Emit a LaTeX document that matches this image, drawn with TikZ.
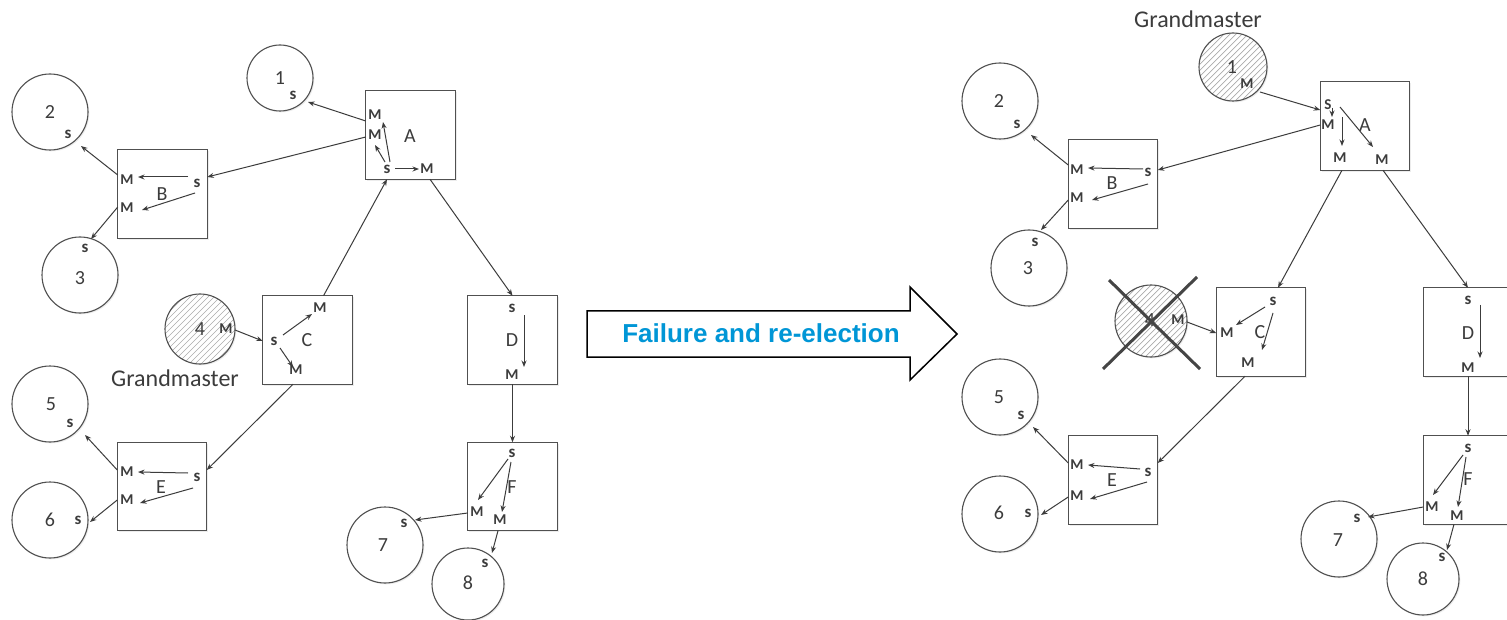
\documentclass[tikz,border=0pt]{standalone}
\usepackage{fontspec}
\setmainfont{Carlito}
\newfontfamily\bannerfont{Liberation Sans}
\usetikzlibrary{arrows.meta,calc,shadows}

\definecolor{ink}{HTML}{3C3C3C}
\definecolor{edge}{HTML}{505050}
\definecolor{hatchc}{HTML}{ABABAB}
\definecolor{crossc}{HTML}{454545}
\definecolor{banner}{RGB}{0,150,214}

\tikzset{
  station/.style={circle, draw=edge, line width=1.1pt, fill=white,
    minimum size=76pt, inner sep=0pt, outer sep=0pt,
    drop shadow={shadow xshift=1.3pt, shadow yshift=-1.3pt, fill=black!14}},
  hatched/.style={path picture={
    \foreach \k in {-96,-90,...,96}
      \draw[hatchc, line width=0.7pt]
        ($(path picture bounding box.center)+(\k-50,50)$) -- ++(100,-100);}},
  switchbox/.style={rectangle, draw=edge, line width=1.4pt, fill=white,
    minimum width=89.5pt, minimum height=88.5pt, inner sep=0pt, outer sep=0pt,
    drop shadow={shadow xshift=1.5pt, shadow yshift=-1.5pt, fill=black!14}},
  num/.style={text=ink, font=\fontsize{20}{20}\selectfont, inner sep=0.5pt},
  portm/.style={text=ink, font=\bfseries\fontsize{15}{15}\selectfont, inner sep=0.5pt},
  ports/.style={text=ink, font=\bfseries\fontsize{17}{17}\selectfont, inner sep=0.5pt},
  gmtext/.style={text=ink, font=\fontsize{24}{24}\selectfont, inner sep=0pt},
  link/.style={draw=ink, line width=1pt, -{Stealth[length=6.5pt,width=5pt]}},
  xmark/.style={draw=crossc, line width=3pt},
}

\begin{document}
\begin{tikzpicture}[x=1pt, y=-1pt]
\fill[white] (0,0) rectangle (1507,620);
\useasboundingbox (0,0) rectangle (1507,620);

% ---------------- network before the failure ----------------
% end stations
\node[station, minimum size=66pt] (c1L) at (280,78) {};
\node[station] (c2L) at (50,112) {};
\node[station] (c3L) at (80,275) {};
\node[station, hatched, minimum size=70pt] (c4L) at (200,329) {};
\node[station] (c5L) at (50,404) {};
\node[station] (c6L) at (50,520) {};
\node[station] (c7L) at (385,545) {};
\node[station, minimum size=72pt] (c8L) at (468,584) {};

% boundary clocks
\node[switchbox] (bAL) at (410.5,135) {};
\node[switchbox] (bBL) at (162.5,194) {};
\node[switchbox] (bCL) at (307.5,340) {};
\node[switchbox] (bDL) at (512.5,340) {};
\node[switchbox] (bEL) at (162,486.5) {};
\node[switchbox] (bFL) at (512.5,486.5) {};

% station labels
\node[num] (n1L) at (280,78) {1};   \node[ports] (s1L) at (293,95) {s};
\node[num] (n2L) at (50,112) {2};   \node[ports] (s2L) at (68,134) {s};
\node[num] (n3L) at (80,278) {3};   \node[ports] (s3L) at (85,248) {s};
\node[num] (n4L) at (200,329) {4};  \node[portm] (m4L) at (226,329) {M};
\node[gmtext] (gmL) at (175,378) {Grandmaster};
\node[num] (n5L) at (51,404) {5};   \node[ports] (s5L) at (70,423) {s};
\node[num] (n6L) at (50,520) {6};   \node[ports] (s6L) at (78,520) {s};
\node[num] (n7L) at (383,545) {7};  \node[ports] (s7L) at (404,523) {s};
\node[num] (n8L) at (468,583) {8};  \node[ports] (s8L) at (485,563) {s};

% switch labels and ports
\node[num] (lAL) at (410,136) {A};
\node[portm] (mA1L) at (375,115) {M};
\node[portm] (mA2L) at (375,135) {M};
\node[ports] (sAL) at (387,169) {s};
\node[portm] (mA3L) at (427,169) {M};

\node[num] (lBL) at (162,194) {B};
\node[portm] (mB1L) at (127,180) {M};
\node[portm] (mB2L) at (127,208) {M};
\node[ports] (sBL) at (197,183) {s};

\node[num] (lCL) at (307,340) {C};
\node[ports] (sCL) at (274,341) {s};
\node[portm] (mC1L) at (320,308) {M};
\node[portm] (mC2L) at (296,370) {M};

\node[num] (lDL) at (512,340) {D};
\node[ports] (sDL) at (512,308) {s};
\node[portm] (mDL) at (512,375) {M};

\node[num] (lEL) at (161,487) {E};
\node[portm] (mE1L) at (127,472) {M};
\node[portm] (mE2L) at (127,500) {M};
\node[ports] (sEL) at (197,477) {s};

\node[num] (lFL) at (512,487) {F};
\node[ports] (sFL) at (512,453) {s};
\node[portm] (mF1L) at (477,512) {M};
\node[portm] (mF2L) at (500,520) {M};

% links between clocks
\draw[link] ($(bAL.west)+(0,-14)$) -- ($(c1L)+(28,24)$);
\draw[link] ($(bAL.west)+(0,2)$) -- ($(bBL.east)+(0,-17)$);
\draw[link] ($(bBL.west)+(0,-19)$) -- ($(c2L)+(31,34)$);
\draw[link] ($(bBL.west)+(0,13)$) -- ($(c3L)+(11,-36)$);
\draw[link] ($(bCL.north)+(16,0)$) -- (bAL.south -| sAL);
\draw[link] ($(bAL.south)+(19.5,0)$) -- (bDL.north);
\draw[link] ($(c4L)+(35,1)$) -- ($(bCL.west)+(0,1)$);
\draw[link] ($(bCL.south)+(-14.5,0)$) -- ($(bEL.east)+(0,-16.5)$);
\draw[link] ($(bEL.west)+(0,-16.5)$) -- ($(c5L)+(35,31)$);
\draw[link] ($(bEL.west)+(0,13.5)$) -- ($(c6L)+(40,2)$);
\draw[link] (bDL.south) -- (bFL.north);
\draw[link] ($(bFL.west)+(0,26.5)$) -- ($(c7L)+(30,-25)$);
\draw[link] ($(bFL.south)+(-14.5,0)$) -- ($(c8L)+(24,-31)$);

% paths inside the switches
\draw[link] ($(sAL)+(3,-7)$) -- ($(mA1L)+(8,7)$);
\draw[link] ($(sAL)+(-2,-7)$) -- ($(mA2L)+(0,10)$);
\draw[link] ($(sAL)+(8,0)$) -- ($(mA3L)+(-8,0)$);
\draw[link] ($(sBL)+(-9,-6)$) -- ($(mB1L)+(11,-3)$);
\draw[link] ($(sBL)+(-2,10)$) -- ($(mB2L)+(15,2)$);
\draw[link] ($(sCL)+(9,-6)$) -- ($(mC1L)+(-8,6)$);
\draw[link] ($(sCL)+(6,7)$) -- ($(mC2L)+(-3,-3)$);
\draw[link] ($(sDL)+(12,7)$) -- ($(mDL)+(12,-8)$);
\draw[link] ($(sEL)+(-9,-4)$) -- ($(mE1L)+(11,0)$);
\draw[link] ($(sEL)+(-4,11)$) -- ($(mE2L)+(13,3)$);
\draw[link] ($(sFL)+(-4,6)$) -- ($(mF1L)+(1,-12)$);
\draw[link] ($(sFL)+(-1,9)$) -- ($(mF2L)+(2,-8)$);

% ---------------- transition ----------------
\draw[black, line width=1.5pt, line join=miter, fill=white]
  (587,311) -- (910,311) -- (910,287) -- (957,334) -- (910,380) -- (910,357) -- (587,357) -- cycle;
\node[text=banner, font=\bannerfont\bfseries\fontsize{26}{26}\selectfont, inner sep=0pt]
  (flow) at (761,333) {Failure and re-election};

% ---------------- network after re-election ----------------
\node[station, hatched, minimum size=68pt] (c1R) at (1233,67) {};
\node[station] (c2R) at (1000,101) {};
\node[station] (c3R) at (1029,268) {};
\node[station, hatched, minimum size=72pt] (c4R) at (1151,321) {};
\node[station] (c5R) at (1000,397) {};
\node[station] (c6R) at (1000,514) {};
\node[station] (c7R) at (1339,539) {};
\node[station, minimum size=72pt] (c8R) at (1423,579) {};

\node[switchbox] (bAR) at (1365,126) {};
\node[switchbox] (bBR) at (1113,184) {};
\node[switchbox] (bCR) at (1261,332) {};
\node[switchbox] (bDR) at (1468,332) {};
\node[switchbox] (bER) at (1113,480) {};
\node[switchbox] (bFR) at (1468,480) {};

\node[gmtext] (gmR) at (1198,19) {Grandmaster};
\node[num] (n1R) at (1232,67) {1};   \node[portm] (m1R) at (1247,84) {M};
\node[num] (n2R) at (999,101) {2};   \node[ports] (s2R) at (1017,124) {s};
\node[num] (n3R) at (1028,268) {3};  \node[ports] (s3R) at (1035,242) {s};
\node[num] (n4R) at (1150,320) {4};  \node[portm] (m4R) at (1178,320) {M};
\node[num] (n5R) at (999,397) {5};   \node[ports] (s5R) at (1021,415) {s};
\node[num] (n6R) at (999,513) {6};   \node[ports] (s6R) at (1028,513) {s};
\node[num] (n7R) at (1338,540) {7};  \node[ports] (s7R) at (1357,518) {s};
\node[num] (n8R) at (1423,579) {8};  \node[ports] (s8R) at (1442,557) {s};

\node[num] (lAR) at (1365,125) {A};
\node[portm] (SAR) at (1328,105) {S};
\node[portm] (mA1R) at (1328,125) {M};
\node[portm] (mA2R) at (1340,158) {M};
\node[portm] (mA3R) at (1382,160) {M};

\node[num] (lBR) at (1112,183) {B};
\node[portm] (mB1R) at (1077,170) {M};
\node[portm] (mB2R) at (1077,198) {M};
\node[ports] (sBR) at (1148,172) {s};

\node[num] (lCR) at (1260,332) {C};
\node[ports] (sCR) at (1273,301) {s};
\node[portm] (mC1R) at (1227,333) {M};
\node[portm] (mC2R) at (1248,363) {M};

\node[num] (lDR) at (1468,333) {D};
\node[ports] (sDR) at (1468,300) {s};
\node[portm] (mDR) at (1468,368) {M};

\node[num] (lER) at (1112,480) {E};
\node[portm] (mE1R) at (1077,465) {M};
\node[portm] (mE2R) at (1077,496) {M};
\node[ports] (sER) at (1148,472) {s};

\node[num] (lFR) at (1468,479) {F};
\node[ports] (sFR) at (1468,448) {s};
\node[portm] (mF1R) at (1432,507) {M};
\node[portm] (mF2R) at (1457,516) {M};

% failed grandmaster
\draw[xmark] ($(c4R)+(-42,-41)$) -- ($(c4R)+(49,48)$);
\draw[xmark] ($(c4R)+(46,-44)$) -- ($(c4R)+(-48,48)$);

% links between clocks
\draw[link] ($(c1R)+(27,25)$) -- ($(bAR.west)+(0,-16)$);
\draw[link] ($(bAR.west)+(0,-1)$) -- ($(bBR.east)+(0,-14)$);
\draw[link] ($(bBR.west)+(0,-19)$) -- ($(c2R)+(31,34)$);
\draw[link] ($(bBR.west)+(0,16)$) -- ($(c3R)+(12,-38)$);
\draw[link] ($(bAR.south)+(-23,0)$) -- ($(bCR.north)+(17,0)$);
\draw[link] ($(bAR.south)+(18,0)$) -- (bDR.north);
\draw[link] ($(c4R)+(36,1)$) -- ($(bCR.west)+(0,1)$);
\draw[link] ($(bCR.south)+(-16,0)$) -- ($(bER.east)+(0,-17)$);
\draw[link] ($(bER.west)+(0,-17)$) -- ($(c5R)+(33,30)$);
\draw[link] ($(bER.west)+(0,17)$) -- ($(c6R)+(41,1)$);
\draw[link] (bDR.south) -- (bFR.north);
\draw[link] ($(bFR.west)+(0,27)$) -- ($(c7R)+(29,-22)$);
\draw[link] ($(bFR.south)+(-14,0)$) -- ($(c8R)+(24,-29)$);

% paths inside the switches
\draw[link] ($(SAR)+(4,3)$) -- ($(mA1R)+(4,-8)$);
\draw[link] ($(mA1R)+(14,-8)$) -- ($(mA2R)+(2,-12)$);
\draw[link] ($(SAR)+(12,2)$) -- ($(mA3R)+(-9,-13)$);
\draw[link] ($(sBR)+(-5,-3)$) -- ($(mB1R)+(11,-2)$);
\draw[link] ($(sBR)+(0,12)$) -- ($(mB2R)+(15,2)$);
\draw[link] ($(sCR)+(-8,6)$) -- ($(mC1R)+(9,-8)$);
\draw[link] ($(sCR)+(0,12)$) -- ($(mC2R)+(14,-13)$);
\draw[link] ($(sDR)+(12,5)$) -- ($(mDR)+(12,-10)$);
\draw[link] ($(sER)+(-8,-3)$) -- ($(mE1R)+(11,0)$);
\draw[link] ($(sER)+(-1,10)$) -- ($(mE2R)+(13,3)$);
\draw[link] ($(sFR)+(-5,7)$) -- ($(mF1R)+(1,-12)$);
\draw[link] ($(sFR)+(-2,9)$) -- ($(mF2R)+(1,-9)$);
\end{tikzpicture}
\end{document}
